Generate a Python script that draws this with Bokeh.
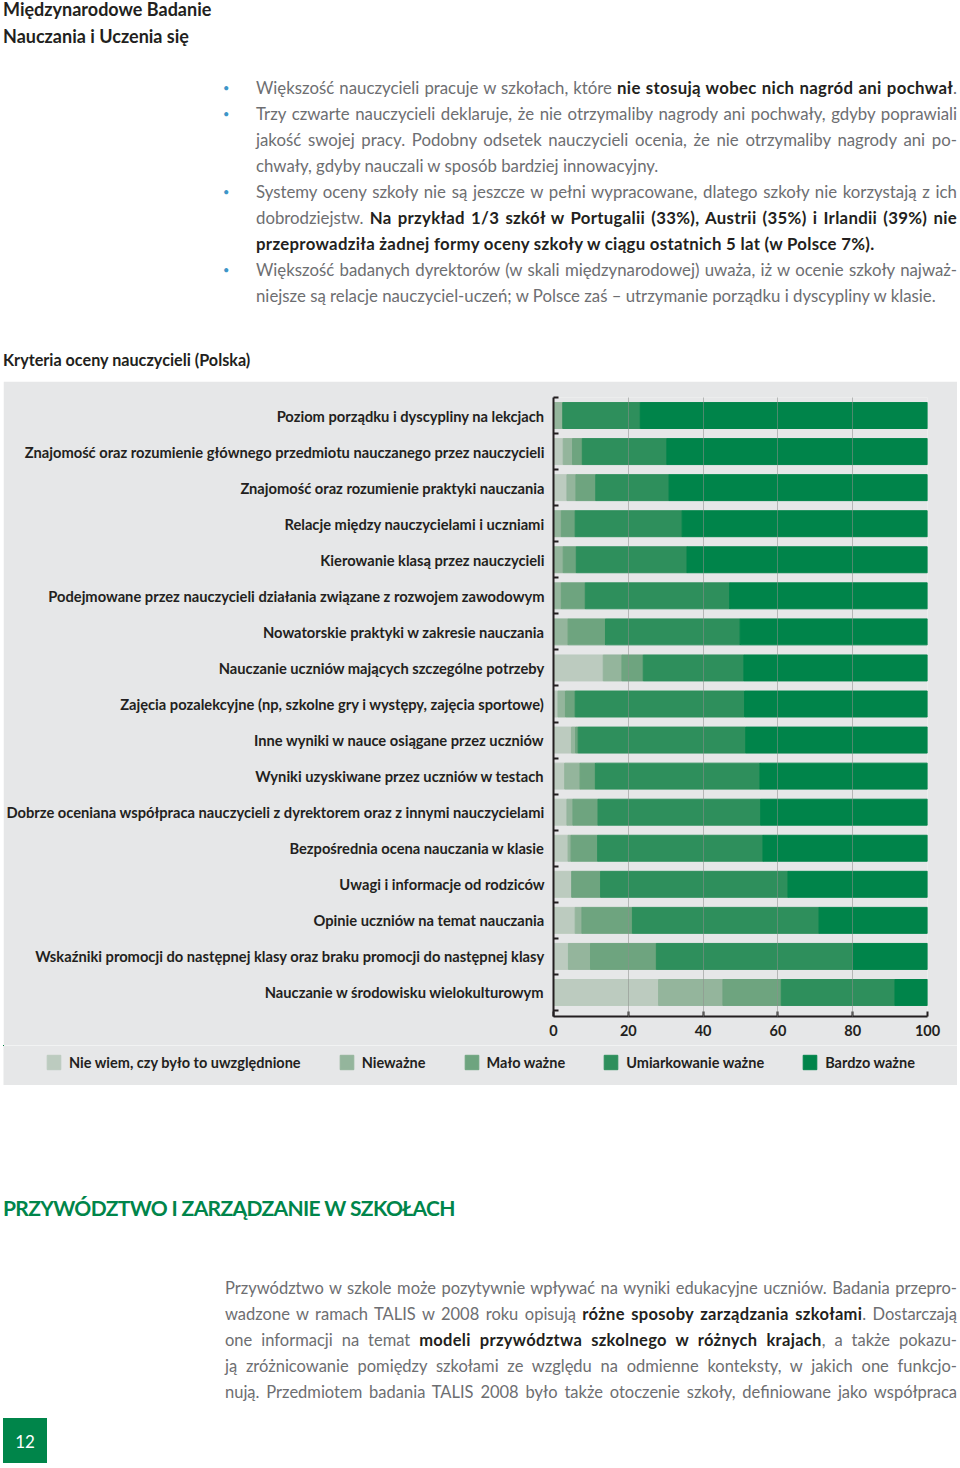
from bokeh.plotting import figure
from bokeh.models import Range1d, FixedTicker, Div, Legend, LegendItem, ColumnDataSource
from bokeh.layouts import column
from bokeh.embed import file_html
from bokeh.resources import INLINE

# ---------------- data ----------------
categories = [
    "Poziom porządku i dyscypliny na lekcjach",
    "Znajomość oraz rozumienie głównego przedmiotu nauczanego przez nauczycieli",
    "Znajomość oraz rozumienie praktyki nauczania",
    "Relacje między nauczycielami i uczniami",
    "Kierowanie klasą przez nauczycieli",
    "Podejmowane przez nauczycieli działania związane z rozwojem zawodowym",
    "Nowatorskie praktyki w zakresie nauczania",
    "Nauczanie uczniów mających szczególne potrzeby",
    "Zajęcia pozalekcyjne (np, szkolne gry i występy, zajęcia sportowe)",
    "Inne wyniki w nauce osiągane przez uczniów",
    "Wyniki uzyskiwane przez uczniów w testach",
    "Dobrze oceniana współpraca nauczycieli z dyrektorem oraz z innymi nauczycielami",
    "Bezpośrednia ocena nauczania w klasie",
    "Uwagi i informacje od rodziców",
    "Opinie uczniów na temat nauczania",
    "Wskaźniki promocji do następnej klasy oraz braku promocji do następnej klasy",
    "Nauczanie w środowisku wielokulturowym",
]
nie_wiem     = [0.0, 2.6, 3.6, 0.0, 0.0, 0.0, 0.0, 13.3, 1.2, 4.8, 3.0, 3.6, 3.9, 4.9, 5.8, 4.0, 28.1]
niewazne     = [2.5, 2.5, 2.4, 2.1, 2.6, 2.1, 3.9, 5.0, 2.0, 1.1, 4.1, 1.6, 0.8, 0.0, 1.8, 5.9, 17.2]
malo_wazne   = [0.0, 2.6, 5.3, 3.7, 3.5, 6.4, 10.0, 5.7, 2.6, 0.7, 4.1, 6.7, 7.1, 7.7, 13.5, 17.6, 15.6]
umiarkowanie = [20.7, 22.6, 19.6, 28.6, 29.6, 38.6, 36.0, 26.9, 45.3, 44.8, 44.0, 43.5, 44.2, 50.1, 49.9, 52.5, 30.4]
bardzo       = [76.8, 69.7, 69.1, 65.6, 64.3, 52.9, 50.1, 49.1, 48.9, 48.6, 44.8, 44.6, 44.0, 37.3, 29.0, 20.0, 8.7]
series_names = ["Nie wiem, czy było to uwzględnione", "Nieważne", "Mało ważne",
                "Umiarkowanie ważne", "Bardzo ważne"]
series_colors = ["#bccbbf", "#94b59c", "#6ea47f", "#2e8f5c", "#00844a"]
x_ticks = [0, 20, 40, 60, 80, 100]

FONT = "Lato"
GREY_BG = "#e6e7e8"
DARK = "#231f20"
TXT = "#6d6e71"
STACK = ["s0", "s1", "s2", "s3", "s4"]

# ---------------- chart ----------------
n = len(categories)
positions = [i + 1 for i in range(n)]
source = ColumnDataSource(dict(y=positions, s0=nie_wiem, s1=niewazne, s2=malo_wazne,
                               s3=umiarkowanie, s4=bardzo))

p = figure(width=954, height=664, x_range=Range1d(0, 100), y_range=Range1d(n + 0.666, 0.5),
           output_backend="svg", toolbar_location=None,
           min_border_left=549, min_border_right=30, min_border_top=16, min_border_bottom=29)
p.margin = (0, 0, 0, 3)
p.background_fill_color = GREY_BG
p.border_fill_color = GREY_BG
p.outline_line_color = None
if "frame_align" in p.properties():
    p.frame_align = False

p.hbar_stack(STACK, y="y", height=0.72, color=series_colors, source=source)

# y axis: labels at centres, ticks at category boundaries (pointing inward)
p.yaxis.ticker = FixedTicker(ticks=positions, minor_ticks=[i + 0.5 for i in range(n + 1)])
p.yaxis.major_label_overrides = {pos: cat for pos, cat in zip(positions, categories)}
p.yaxis.major_tick_in = 0
p.yaxis.major_tick_out = 0
p.yaxis.minor_tick_in = 5
p.yaxis.minor_tick_out = 0
p.yaxis.minor_tick_line_width = 2
p.yaxis.minor_tick_line_color = DARK
p.yaxis.axis_line_width = 2
p.yaxis.axis_line_color = DARK
p.yaxis.major_label_standoff = 9
p.yaxis.major_label_text_font = FONT
p.yaxis.major_label_text_font_style = "bold"
p.yaxis.major_label_text_font_size = "14.7px"
p.yaxis.major_label_text_color = DARK

# x axis
p.xaxis.ticker = FixedTicker(ticks=x_ticks)
p.xaxis.major_tick_in = 5
p.xaxis.major_tick_out = 0
p.xaxis.major_tick_line_width = 2
p.xaxis.major_tick_line_color = DARK
p.xaxis.minor_tick_line_color = None
p.xaxis.axis_line_width = 2
p.xaxis.axis_line_color = DARK
p.xaxis.major_label_standoff = 8
p.xaxis.major_label_text_font = FONT
p.xaxis.major_label_text_font_style = "bold"
p.xaxis.major_label_text_font_size = "14.5px"
p.xaxis.major_label_text_color = DARK

p.ygrid.visible = False
p.xgrid.ticker = FixedTicker(ticks=x_ticks[1:])
p.xgrid.grid_line_color = "#8c908d"
p.xgrid.grid_line_alpha = 0.55
p.xgrid.level = "overlay"

# ---------------- legend strip (own figure, frame = whole strip) ----------------
lf = figure(width=954, height=40, x_range=Range1d(200, 300), y_range=Range1d(-3, -2),
            x_axis_location=None, y_axis_location=None,
            output_backend="svg", toolbar_location=None,
            min_border_left=0, min_border_right=0, min_border_top=0, min_border_bottom=0)
lf.margin = (0, 0, 0, 3)
lf.grid.visible = False
lf.background_fill_color = GREY_BG
lf.border_fill_color = GREY_BG
lf.outline_line_color = None
if "frame_align" in lf.properties():
    lf.frame_align = False
legend_renderers = lf.hbar_stack(STACK, y="y", height=0.72, color=series_colors, source=source)
items = [LegendItem(label=name, renderers=[r]) for name, r in zip(series_names, legend_renderers)]
lg = Legend(items=items, orientation="horizontal", location=(42, 14))
lg.padding = 0
lg.margin = 0
lg.spacing = 37
lg.glyph_width = 17
lg.glyph_height = 18
lg.label_standoff = 7
lg.label_height = 18
lg.label_text_font = FONT
lg.label_text_font_style = "bold"
lg.label_text_font_size = "14.5px"
lg.label_text_color = DARK
lg.border_line_color = None
lg.background_fill_alpha = 0
lg.click_policy = "none"
lf.add_layout(lg)

# ---------------- text blocks ----------------


def b(s):
    return f'<span style="font-weight:700;color:{DARK};letter-spacing:0.3px;">{s}</span>'


def tline(html, top, left, width, justify=True, size=16.8, lh=26, color=TXT):
    align = "text-align:justify;text-align-last:justify;" if justify else "text-align:left;"
    return (f'<div style="position:absolute;top:{top}px;left:{left}px;width:{width}px;'
            f'height:{lh}px;line-height:{lh}px;font-size:{size}px;color:{color};'
            f'white-space:nowrap;font-family:{FONT};{align}">{html}</div>')


def bullet(top):
    return (f'<div style="position:absolute;top:{top}px;left:223px;width:10px;height:26px;'
            f'line-height:26px;font-size:11px;color:#3d95c8;font-family:{FONT};">&#8226;</div>')


bullet_lines = [
    ("Większość nauczycieli pracuje w szkołach, które " + b("nie stosują wobec nich nagród ani pochwał") + ".", True),
    ("Trzy czwarte nauczycieli deklaruje, że nie otrzymaliby nagrody ani pochwały, gdyby poprawiali", True),
    ("jakość swojej pracy. Podobny odsetek nauczycieli ocenia, że nie otrzymaliby nagrody ani po-", True),
    ("chwały, gdyby nauczali w sposób bardziej innowacyjny.", False),
    ("Systemy oceny szkoły nie są jeszcze w pełni wypracowane, dlatego szkoły nie korzystają z ich", True),
    ("dobrodziejstw. " + b("Na przykład 1/3 szkół w Portugalii (33%), Austrii (35%) i Irlandii (39%) nie"), True),
    (b("przeprowadziła żadnej formy oceny szkoły w ciągu ostatnich 5 lat (w Polsce 7%)."), False),
    ("Większość badanych dyrektorów (w skali międzynarodowej) uważa, iż w ocenie szkoły najważ-", True),
    ("niejsze są relacje nauczyciel-uczeń; w Polsce zaś – utrzymanie porządku i dyscypliny w klasie.", False),
]
bullet_starts = [0, 1, 4, 7]


def title_line(text, top, size, weight=700):
    return (f'<div style="position:absolute;top:{top}px;left:3px;width:420px;height:20px;line-height:20px;'
            f'font-size:{size}px;font-weight:{weight};color:{DARK};font-family:{FONT};white-space:nowrap;">{text}</div>')


head_parts = [title_line("Międzynarodowe Badanie", -1, 18),
              title_line("Nauczania i Uczenia się", 26, 18)]
for k, (html, just) in enumerate(bullet_lines):
    top = 75 + 26 * k
    head_parts.append(tline(html, top, 256, 701, justify=just))
    if k in bullet_starts:
        head_parts.append(bullet(top))
head_parts.append(title_line("Kryteria oceny nauczycieli (Polska)", 350, 16.2))
header_html = '<div style="position:relative;width:960px;height:381px;">' + "".join(head_parts) + "</div>"

para_lines = [
    "Przywództwo w szkole może pozytywnie wpływać na wyniki edukacyjne uczniów. Badania przepro-",
    "wadzone w ramach TALIS w 2008 roku opisują " + b("różne sposoby zarządzania szkołami") + ". Dostarczają",
    "one informacji na temat " + b("modeli przywództwa szkolnego w różnych krajach") + ", a także pokazu-",
    "ją zróżnicowanie pomiędzy szkołami ze względu na odmienne konteksty, w jakich one funkcjo-",
    "nują. Przedmiotem badania TALIS 2008 było także otoczenie szkoły, definiowane jako współpraca",
]
foot_parts = [
    f'<div style="position:absolute;top:109px;left:3px;width:600px;height:28px;line-height:28px;font-size:21px;'
    f'font-weight:700;color:#00854a;letter-spacing:-0.65px;font-family:{FONT};white-space:nowrap;">'
    f'PRZYWÓDZTWO I ZARZĄDZANIE W SZKOŁACH</div>'
]
for k, html in enumerate(para_lines):
    foot_parts.append(tline(html, 190 + 26 * k, 225, 732, justify=True, size=16.5))
foot_parts.append(
    f'<div style="position:absolute;top:333px;left:3px;width:44px;height:45px;background:#00854a;'
    f'color:white;text-align:center;line-height:48px;font-size:17px;font-family:{FONT};">12</div>')
footer_html = '<div style="position:relative;width:960px;height:380px;">' + "".join(foot_parts) + "</div>"

header = Div(text=header_html, width=960, height=381, margin=0)
footer = Div(text=footer_html, width=960, height=380, margin=0)

page = column(header, p, lf, footer, spacing=0)

open("out.html", "w").write(file_html(page, INLINE))
